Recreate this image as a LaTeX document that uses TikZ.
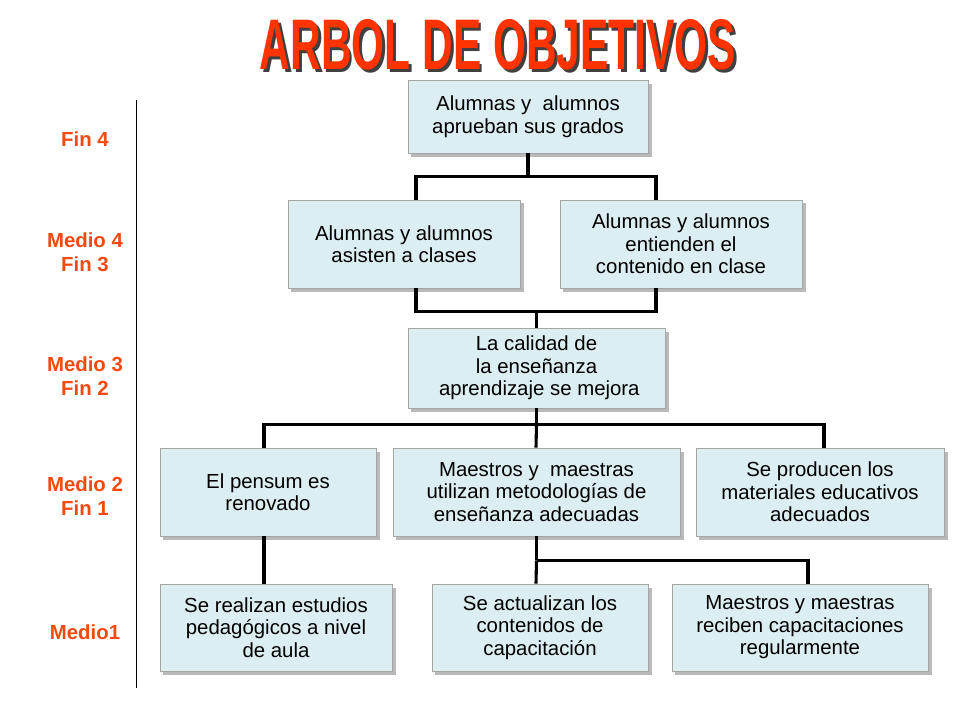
\documentclass[tikz,border=0pt]{standalone}
\usepackage{fontspec}
\setmainfont{Liberation Sans}
\usepackage{tikz}
\usetikzlibrary{shadows}
\definecolor{boxfill}{HTML}{DDEEF3}
\definecolor{titlered}{HTML}{FF3300}
\definecolor{levelred}{HTML}{F24A10}

\begin{document}
\begin{tikzpicture}[x=0.025cm, y=-0.025cm,
	box/.style={draw=gray!70, fill=boxfill, align=center, inner sep=2pt,
		font=\fontsize{14.5}{16}\selectfont,
		drop shadow={shadow xshift=2.5pt, shadow yshift=-2.5pt, fill=gray!55, opacity=1}},
	level/.style={text=levelred, font=\fontsize{14.5}{17}\selectfont\bfseries, align=center},
	link/.style={black, line width=2.2pt}]
	\useasboundingbox (0,0) rectangle (960,720);

	% title
	\node (title) at (498,46) {\rlap{\hspace{2pt}\raisebox{-2pt}{\color{black!75}\resizebox{11.9cm}{1.25cm}{\bfseries ARBOL DE OBJETIVOS}}}\color{titlered}\resizebox{11.9cm}{1.25cm}{\bfseries ARBOL DE OBJETIVOS}};

	% levels
	\draw (136,100) -- (136,688);
	\node[level] (lv4) at (85,139) {Fin 4};
	\node[level] (lv3) at (85,252) {Medio 4\\Fin 3};
	\node[level] (lv2) at (85,376) {Medio 3\\Fin 2};
	\node[level] (lv1) at (85,496) {Medio 2\\Fin 1};
	\node[level] (lv0) at (85,632) {Medio1};

	% boxes
	\node[box, minimum width=6cm, minimum height=1.825cm] (b1) at (528,116.5) {Alumnas y\ \ alumnos\\aprueban sus grados};
	\node[box, minimum width=5.8cm, minimum height=2.2cm] (b2) at (404,244) {Alumnas y alumnos\\asisten a clases};
	\node[box, minimum width=6.05cm, minimum height=2.2cm] (b3) at (681,244) {Alumnas y alumnos\\entienden el\\contenido en clase};
	\node[box, minimum width=6.425cm, minimum height=2cm] (b4) at (536.5,368) {La calidad de\\la enseñanza\\\ aprendizaje se mejora};
	\node[box, minimum width=5.4cm, minimum height=2.2cm] (b5) at (268,492) {El pensum es\\renovado};
	\node[box, minimum width=7.175cm, minimum height=2.2cm] (b6) at (536.5,492) {Maestros y\ \ maestras\\utilizan metodologías de\\enseñanza adecuadas};
	\node[box, minimum width=6.2cm, minimum height=2.2cm] (b7) at (820,492) {Se producen los\\materiales educativos\\adecuados};
	\node[box, minimum width=5.8cm, minimum height=2.175cm] (b8) at (276,627.5) {Se realizan estudios\\pedagógicos a nivel\\de aula};
	\node[box, minimum width=5.4cm, minimum height=2.175cm] (b9) at (540,627.5) {Se actualizan los\\contenidos de\\capacitación};
	\node[box, minimum width=6.4cm, minimum height=2.175cm] (b10) at (800,627.5) {Maestros y maestras\\reciben capacitaciones\\regularmente};

	% connectors
	\draw[link] (b1.south) -- ++(0,23) coordinate (j1);
	\draw[link] (416,0 |- b2.north) |- (j1) -- (656,0 |- j1) -- (656,0 |- b3.north);
	\draw[link] (b4.north) -- ++(0,-16) coordinate (j2);
	\draw[link] (416,0 |- b2.south) |- (j2) -- (656,0 |- j2) -- (656,0 |- b3.south);
	\draw[link] (b4.south) -- ++(0,16) coordinate (j3);
	\draw[link] (264,0 |- b5.north) |- (j3) -- (824,0 |- j3) -- (824,0 |- b7.north);
	\draw[link] (j3) -- (536,0 |- b6.north);
	\draw[link] (264,0 |- b5.south) -- (264,0 |- b8.north);
	\draw[link] (b6.south) -- ++(0,24) coordinate (j4);
	\draw[link] (j4) -- (536,0 |- b9.north);
	\draw[link] (j4) -- (808,0 |- j4) -- (808,0 |- b10.north);
\end{tikzpicture}
\end{document}
